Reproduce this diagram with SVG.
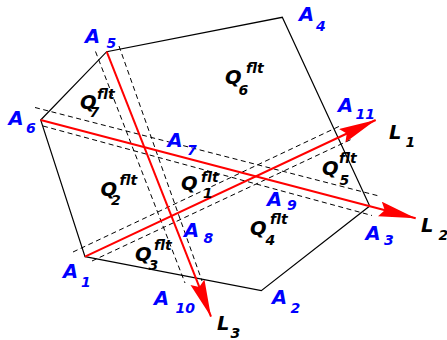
<svg xmlns="http://www.w3.org/2000/svg" width="447" height="340" viewBox="0 0 447 340">
<style>
.edge{fill:none;stroke:#000;stroke-width:1.2}
.dash{fill:none;stroke:#000;stroke-width:1;stroke-dasharray:5,3.5}
.red{fill:none;stroke:#ff0000;stroke-width:2;marker-end:url(#arr)}
text{font-family:"DejaVu Sans","Liberation Sans",sans-serif;font-weight:bold;font-style:italic}
.a{fill:#0000ff;font-size:19.5px}
.as{fill:#0000ff;font-size:14px}
.q{fill:#000;font-size:19.5px}
.qs{fill:#000;font-size:14px}
</style>
<defs>
<marker id="arr" markerUnits="userSpaceOnUse" markerWidth="40" markerHeight="16" refX="37" refY="7.5" orient="auto">
<path d="M0,0 L37,7.5 L0,15 L5,7.5 Z" fill="#ff0000"/>
</marker>
</defs>
<g id="polygon">
<polygon class="edge" points="85,256.7 261.3,290.7 369.7,206 282.3,17.3 106.7,51.7 40.7,120"/>
</g>
<g id="bands">
<line class="dash" x1="73" y1="252" x2="342" y2="125"/>
<line class="dash" x1="92" y1="261" x2="352" y2="139"/>
<line class="dash" x1="35" y1="107.5" x2="379" y2="196"/>
<line class="dash" x1="43" y1="126" x2="372" y2="215.5"/>
<line class="dash" x1="95.5" y1="51.5" x2="185" y2="283"/>
<line class="dash" x1="119" y1="46" x2="202" y2="281"/>
</g>
<g id="connectors">
<line id="L1" class="red" x1="85" y1="256.7" x2="375.7" y2="120"/>
<line id="L2" class="red" x1="40.7" y1="120" x2="415.7" y2="218.3"/>
<line id="L3" class="red" x1="106.7" y1="51.7" x2="211" y2="316.7"/>
</g>
<g id="vertex-labels">
<g id="A1"><text class="a" x="63" y="278.3">A</text><text class="as" x="81" y="286.7">1</text></g>
<g id="A2"><text class="a" x="272" y="304">A</text><text class="as" x="290.5" y="312.5">2</text></g>
<g id="A3"><text class="a" x="365.5" y="240">A</text><text class="as" x="384" y="245">3</text></g>
<g id="A4"><text class="a" x="299" y="20.5">A</text><text class="as" x="316" y="30.5">4</text></g>
<g id="A5"><text class="a" x="85" y="43.3">A</text><text class="as" x="106.5" y="47.7">5</text></g>
<g id="A6"><text class="a" x="8.5" y="125">A</text><text class="as" x="26" y="132.7">6</text></g>
<g id="A7"><text class="a" x="167.5" y="146.7">A</text><text class="as" x="187" y="155">7</text></g>
<g id="A8"><text class="a" x="184" y="236.7">A</text><text class="as" x="203.5" y="242.7">8</text></g>
<g id="A9"><text class="a" x="267" y="205.5">A</text><text class="as" x="287" y="210">9</text></g>
<g id="A10"><text class="a" x="154" y="305">A</text><text class="as" x="175.5" y="312.7">10</text></g>
<g id="A11"><text class="a" x="338" y="111.7">A</text><text class="as" x="355.5" y="119.3">11</text></g>
</g>
<g id="region-labels">
<g id="Q1"><text class="q" x="181" y="190">Q</text><text class="qs" x="201" y="181.5">flt</text><text class="qs" x="203" y="198">1</text></g>
<g id="Q2"><text class="q" x="100.5" y="196">Q</text><text class="qs" x="119.5" y="184.5">flt</text><text class="qs" x="111" y="205">2</text></g>
<g id="Q3"><text class="q" x="135" y="261">Q</text><text class="qs" x="154" y="249.5">flt</text><text class="qs" x="148.5" y="269.5">3</text></g>
<g id="Q4"><text class="q" x="250" y="235">Q</text><text class="qs" x="270" y="223.5">flt</text><text class="qs" x="265.5" y="244.5">4</text></g>
<g id="Q5"><text class="q" x="322" y="175">Q</text><text class="qs" x="339" y="163">flt</text><text class="qs" x="339.5" y="184.5">5</text></g>
<g id="Q6"><text class="q" x="225" y="84">Q</text><text class="qs" x="246" y="72.5">flt</text><text class="qs" x="238.5" y="94.5">6</text></g>
<g id="Q7"><text class="q" x="80" y="109">Q</text><text class="qs" x="97" y="99">flt</text><text class="qs" x="89.5" y="116.5">7</text></g>
</g>
<g id="line-labels">
<g id="Lab1"><text class="q" x="389" y="138.5">L</text><text class="qs" x="405.5" y="146.5">1</text></g>
<g id="Lab2"><text class="q" x="421" y="231.5">L</text><text class="qs" x="438.5" y="240">2</text></g>
<g id="Lab3"><text class="q" x="217" y="329.5">L</text><text class="qs" x="230.5" y="337.5">3</text></g>
</g>
</svg>
